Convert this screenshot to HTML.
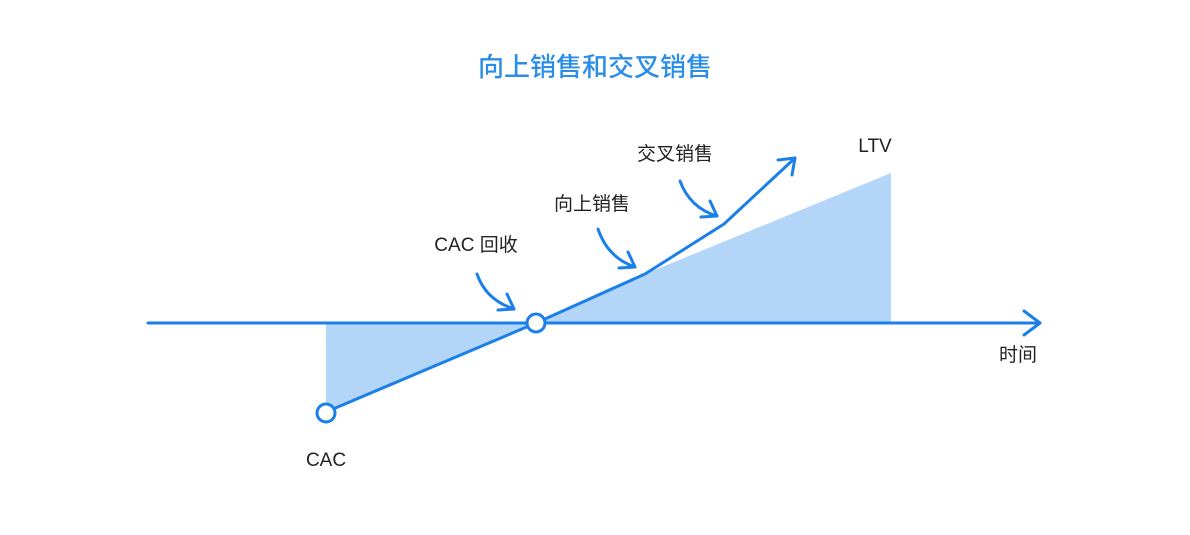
<!DOCTYPE html>
<html><head><meta charset="utf-8"><style>
html,body{margin:0;padding:0;background:#fff;}
svg text{font-family:"Liberation Sans","Noto Sans CJK SC",sans-serif;}
</style></head><body>
<svg width="1190" height="530" viewBox="0 0 1190 530" xmlns="http://www.w3.org/2000/svg">
<rect width="1190" height="530" fill="#fff"/>
<text x="595" y="76" text-anchor="middle" font-size="26" fill="#2a8ee8" font-weight="500">向上销售和交叉销售</text>
<polygon points="326,323 326,412 536,323" fill="#b3d6f8"/>
<polygon points="536,323 645,274 891,173 891,323" fill="#b3d6f8"/>
<g stroke="#1a7fe8" stroke-width="3" fill="none" stroke-linecap="round" stroke-linejoin="round">
<line x1="148" y1="323" x2="1040" y2="323"/>
<polyline points="1024,311 1040,323 1024,335"/>
<polyline points="326,412 536,323 645,274 724,224 795,158"/>
<polyline points="778,160 795,158 792,175"/>
<path d="M477,274 Q486,300 514,309"/>
<polyline points="498,310 514,309 507,294"/>
<path d="M598,229 Q608,258 635,267"/>
<polyline points="619,268 635,267 628,252"/>
<path d="M680,181 Q690,208 717,216"/>
<polyline points="701,217 717,216 710,201"/>
</g>
<circle cx="326" cy="413" r="9" fill="#fff" stroke="#1a7fe8" stroke-width="3"/>
<circle cx="536" cy="323" r="9" fill="#fff" stroke="#1a7fe8" stroke-width="3"/>
<g font-size="19" fill="#222">
<text x="326" y="466" text-anchor="middle">CAC</text>
<text x="476" y="251" text-anchor="middle">CAC 回收</text>
<text x="592" y="210" text-anchor="middle">向上销售</text>
<text x="675" y="160" text-anchor="middle">交叉销售</text>
<text x="875" y="152" text-anchor="middle">LTV</text>
<text x="1018" y="361" text-anchor="middle">时间</text>
</g>
</svg>
</body></html>
